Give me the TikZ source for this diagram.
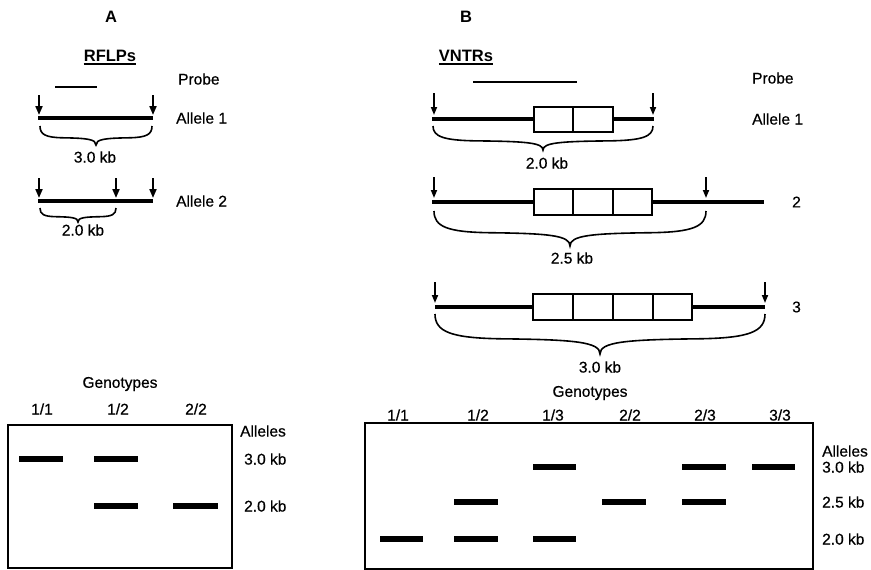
\documentclass[tikz,border=0pt]{standalone}
\usepackage{fontspec}
\setmainfont{Liberation Sans}
\newfontfamily\medfont[FakeBold=0.6]{Liberation Sans}
\usetikzlibrary{arrows.meta}
\newcommand{\gbrace}[4]{%
 \pgfmathsetmacro{\bxa}{#1}\pgfmathsetmacro{\bxb}{#2}\pgfmathsetmacro{\byt}{#3}%
 \pgfmathsetmacro{\byd}{#4-#3}\pgfmathsetmacro{\bxm}{(#1+#2)/2}\pgfmathsetmacro{\bw}{(#2-#1)/2}%
 \draw[brc] (\bxa,\byt) .. controls (\bxa,\byt+0.45*\byd) and (\bxa+0.1*\bw,\byt+0.6*\byd) .. (\bxa+0.4*\bw,\byt+0.62*\byd)
   .. controls (\bxm-0.15*\bw,\byt+0.64*\byd) and (\bxm,\byt+0.7*\byd) .. (\bxm,\byt+\byd)
   .. controls (\bxm,\byt+0.7*\byd) and (\bxm+0.15*\bw,\byt+0.64*\byd) .. (\bxb-0.4*\bw,\byt+0.62*\byd)
   .. controls (\bxb-0.1*\bw,\byt+0.6*\byd) and (\bxb,\byt+0.45*\byd) .. (\bxb,\byt);%
}
\begin{document}
\begin{tikzpicture}[x=1pt,y=-1pt,
 lbl/.style={font=\medfont\fontsize{15.5}{17}\selectfont, inner sep=0pt},
 llbl/.style={lbl, anchor=west},
 head/.style={font=\bfseries\fontsize{16.5}{18}\selectfont, inner sep=0pt},
 dna/.style={line width=3.2pt},
 cut/.style={line width=2pt, -{Triangle[length=9pt,width=7pt]}},
 cutb/.style={line width=1.7pt, -{Triangle[length=8pt,width=6pt]}},
 rep/.style={line width=1.4pt, fill=white},
 brc/.style={line width=1.6pt},
 probe/.style={line width=2.3pt},
 gel/.style={line width=2pt},
 band/.style={line width=6pt},
]
\useasboundingbox (0,0) rectangle (871,570);

% ---------- Panel A ----------
\node[head] (hA) at (111,17) {A};
\node[head] (rflp) at (110,56) {RFLPs};
\draw[line width=1.5pt] ([yshift=-2pt]rflp.south west) -- ([yshift=-2pt]rflp.south east);
\node[llbl] (probeA) at (178,79) {Probe};
\draw[probe] (55,87) -- (97,87);

\draw[dna] (38,118) -- (153,118);
\draw[cut] (39,95) -- (39,115);
\draw[cut] (153,95) -- (153,115);
\node[llbl] (a1A) at (176,118) {Allele 1};
\gbrace{40}{152}{126}{145}
\node[lbl] (kbA1) at (95,157) {3.0 kb};

\draw[dna] (38,201) -- (153,201);
\draw[cut] (39,178) -- (39,198);
\draw[cut] (116,178) -- (116,198);
\draw[cut] (153,178) -- (153,198);
\node[llbl] (a2A) at (176,201) {Allele 2};
\gbrace{40}{116}{208}{222}
\node[lbl] (kbA2) at (83,230) {2.0 kb};

% gel A
\node[lbl] (genA) at (120,384) {Genotypes};
\node[lbl] (gA1) at (42,409) {1/1};
\node[lbl] (gA2) at (118,409) {1/2};
\node[lbl] (gA3) at (196,409) {2/2};
\draw[gel] (8,425) rectangle (232,568);
\node[llbl] (allA) at (240,431) {Alleles};
\node[llbl] (sA3) at (244,459) {3.0 kb};
\node[llbl] (sA2) at (244,506) {2.0 kb};
\draw[band] (19,459) -- (63,459);
\draw[band] (94,459) -- (138,459);
\draw[band] (94,506) -- (138,506);
\draw[band] (173,506) -- (218,506);

% ---------- Panel B ----------
\node[head] (hB) at (466,17) {B};
\node[head] (vntr) at (466,56) {VNTRs};
\draw[line width=1.5pt] ([yshift=-2pt]vntr.south west) -- ([yshift=-2pt]vntr.south east);
\node[llbl] (probeB) at (752,78) {Probe};
\draw[probe] (473,82) -- (577,82);

% allele 1
\draw[dna] (432,119) -- (654,119);
\draw[rep] (534,107) rectangle (613,132);
\draw[rep] (573,107) -- (573,132);
\draw[cutb] (434,93) -- (434,115);
\draw[cutb] (653,93) -- (653,115);
\node[llbl] (a1B) at (752,119) {Allele 1};
\gbrace{433}{653}{126}{150}
\node[lbl] (kbB1) at (547,163) {2.0 kb};

% allele 2
\draw[dna] (432,202) -- (764,202);
\draw[rep] (534,189) rectangle (652,215);
\draw[rep] (573,189) -- (573,215);
\draw[rep] (613,189) -- (613,215);
\draw[cutb] (434,177) -- (434,198);
\draw[cutb] (706,177) -- (706,198);
\node[llbl] (a2B) at (792,202) {2};
\gbrace{434}{706}{211}{246}
\node[lbl] (kbB2) at (572,258) {2.5 kb};

% allele 3
\draw[dna] (435,307) -- (765,307);
\draw[rep] (533,294) rectangle (692,320);
\draw[rep] (573,294) -- (573,320);
\draw[rep] (613,294) -- (613,320);
\draw[rep] (653,294) -- (653,320);
\draw[cutb] (435,282) -- (435,303);
\draw[cutb] (765,282) -- (765,303);
\node[llbl] (a3B) at (792,307) {3};
\gbrace{435}{765}{314}{354}
\node[lbl] (kbB3) at (600,367) {3.0 kb};

% gel B
\node[lbl] (genB) at (590,393) {Genotypes};
\node[lbl] (gB1) at (398,415) {1/1};
\node[lbl] (gB2) at (478,415) {1/2};
\node[lbl] (gB3) at (553,415) {1/3};
\node[lbl] (gB4) at (630,415) {2/2};
\node[lbl] (gB5) at (705,415) {2/3};
\node[lbl] (gB6) at (780,415) {3/3};
\draw[gel] (365,423) rectangle (813,569);
\node[llbl] (allB) at (822,451) {Alleles};
\node[llbl] (sB3) at (822,467) {3.0 kb};
\node[llbl] (sB25) at (822,502) {2.5 kb};
\node[llbl] (sB2) at (822,539) {2.0 kb};
% 3.0 kb
\draw[band] (533,467) -- (576,467);
\draw[band] (682,467) -- (726,467);
\draw[band] (752,467) -- (795,467);
% 2.5 kb
\draw[band] (454,502) -- (498,502);
\draw[band] (602,502) -- (646,502);
\draw[band] (682,502) -- (726,502);
% 2.0 kb
\draw[band] (380,539) -- (423,539);
\draw[band] (454,539) -- (498,539);
\draw[band] (533,539) -- (576,539);
\end{tikzpicture}
\end{document}
